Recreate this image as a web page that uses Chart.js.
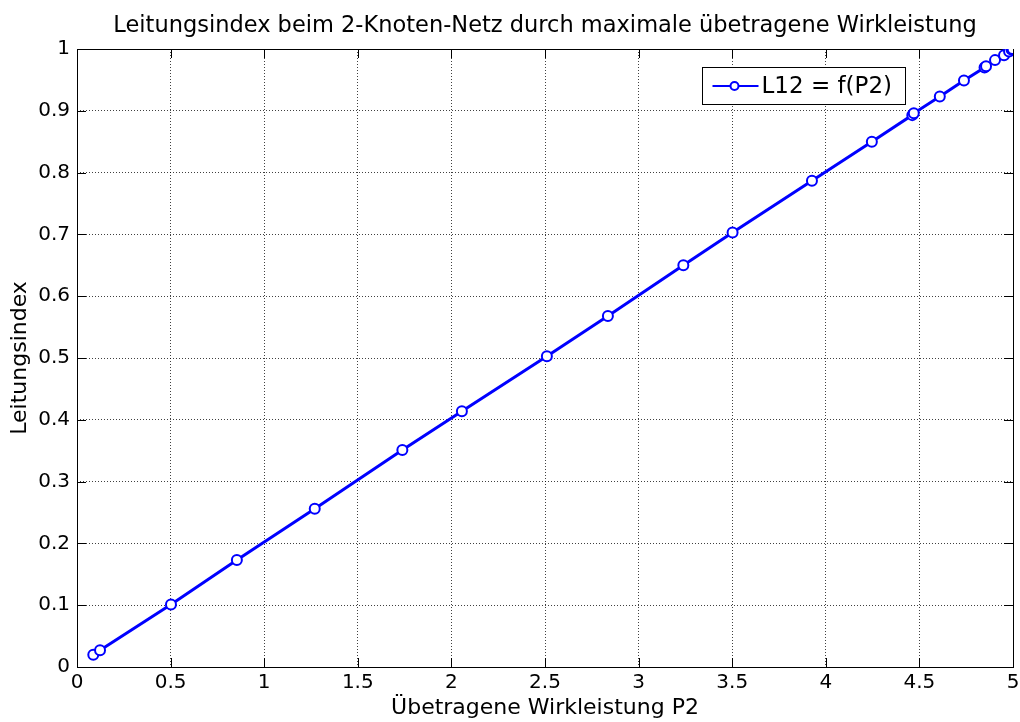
<!DOCTYPE html>
<html>
<head>
<meta charset="utf-8">
<title>Leitungsindex</title>
<script src="https://cdn.jsdelivr.net/npm/chart.js@4/dist/chart.umd.min.js"></script>
<style>
  html, body { margin: 0; padding: 0; background: #fff; }
  canvas { display: block; }
</style>
</head>
<body>
<canvas id="chart" width="1020" height="722"></canvas>
<script>
'use strict';

// ── Data ──────────────────────────────────────────────────────────────────────
const P2  = [0.087, 0.123, 0.502, 0.854, 1.270, 1.738, 2.056, 2.510, 2.836, 3.239,
             3.502, 3.926, 4.246, 4.462, 4.470, 4.609, 4.738, 4.848, 4.856, 4.904,
             4.952, 4.979, 4.992, 4.998];
const L12 = [0.020, 0.027, 0.101, 0.173, 0.256, 0.351, 0.414, 0.503, 0.568, 0.650,
             0.703, 0.787, 0.850, 0.893, 0.896, 0.923, 0.949, 0.970, 0.972, 0.982,
             0.990, 0.996, 0.999, 1.000];

const X_RANGE = [0, 5];
const X_STEP  = 0.5;
const Y_RANGE = [0, 1];
const Y_STEP  = 0.1;

const TITLE   = 'Leitungsindex beim 2-Knoten-Netz durch maximale übetragene Wirkleistung';
const X_LABEL = 'Übetragene Wirkleistung P2';
const Y_LABEL = 'Leitungsindex';
const SERIES  = 'L12 = f(P2)';

const FONT = 'DejaVu Sans';
const BLUE = '#0000ff';

// tick text like "0.5", "1", "0.1" (no padded decimals)
const tickText = v => String(Math.round(v * 10) / 10);

// ── Box around the axes + inward tick marks ───────────────────────────────────
const axesBox = {
  id: 'axesBox',
  beforeDatasetsDraw(chart) {
    const { ctx, chartArea: a, scales: { x, y } } = chart;
    const len = 9;
    ctx.save();
    ctx.strokeStyle = '#000';
    ctx.lineWidth = 1;
    ctx.beginPath();
    x.ticks.forEach(t => {
      const px = Math.round(x.getPixelForValue(t.value)) + 0.5;
      ctx.moveTo(px, a.bottom); ctx.lineTo(px, a.bottom - len);
      ctx.moveTo(px, a.top);    ctx.lineTo(px, a.top + len);
    });
    y.ticks.forEach(t => {
      const py = Math.round(y.getPixelForValue(t.value)) + 0.5;
      ctx.moveTo(a.left, py);  ctx.lineTo(a.left + len, py);
      ctx.moveTo(a.right, py); ctx.lineTo(a.right - len, py);
    });
    ctx.stroke();
    ctx.strokeRect(Math.round(a.left) + 0.5, Math.round(a.top) + 0.5,
                   Math.round(a.right - a.left), Math.round(a.bottom - a.top));
    ctx.restore();
  }
};

// ── Legend box (line + circle marker) ─────────────────────────────────────────
const lineLegend = {
  id: 'lineLegend',
  afterDatasetsDraw(chart) {
    const { ctx } = chart;
    const bx = 702.5, by = 67.5, bw = 203, bh = 37;
    const cy = by + bh / 2;
    ctx.save();
    ctx.fillStyle = '#fff';
    ctx.fillRect(bx, by, bw, bh);
    ctx.strokeStyle = '#000';
    ctx.lineWidth = 1;
    ctx.strokeRect(bx, by, bw, bh);

    ctx.strokeStyle = BLUE;
    ctx.lineWidth = 2;
    ctx.beginPath();
    ctx.moveTo(bx + 10, cy); ctx.lineTo(bx + 56, cy);
    ctx.stroke();
    ctx.beginPath();
    ctx.arc(bx + 32, cy, 4, 0, Math.PI * 2);
    ctx.fillStyle = '#fff';
    ctx.fill();
    ctx.stroke();

    ctx.fillStyle = '#000';
    ctx.font = `23px "${FONT}"`;
    ctx.textBaseline = 'middle';
    ctx.textAlign = 'left';
    ctx.fillText(SERIES, bx + 59, cy + 1);
    ctx.restore();
  }
};

// ── Chart ─────────────────────────────────────────────────────────────────────
Chart.defaults.font.family = FONT;
Chart.defaults.color = '#000';

new Chart(document.getElementById('chart'), {
  type: 'scatter',
  data: {
    datasets: [{
      label: SERIES,
      data: P2.map((p, i) => ({ x: p, y: L12[i] })),
      showLine: true,
      borderColor: BLUE,
      borderWidth: 3,
      pointRadius: 5,
      pointBorderWidth: 2,
      pointBorderColor: BLUE,
      pointBackgroundColor: '#fff',
      tension: 0
    }]
  },
  options: {
    responsive: false,
    animation: false,
    locale: 'en-US',
    layout: { padding: { left: 0, right: 6, top: 0, bottom: 0 } },
    plugins: {
      legend: { display: false },
      tooltip: { enabled: false },
      title: {
        display: true,
        fullSize: false,
        text: TITLE,
        color: '#000',
        font: { size: 22.5, weight: 'normal' },
        padding: { top: 13, bottom: 9 }
      }
    },
    scales: {
      x: {
        type: 'linear',
        min: X_RANGE[0],
        max: X_RANGE[1],
        afterFit: s => { s.height = 55; s.paddingLeft = 0; s.paddingRight = 0; },
        ticks: { stepSize: X_STEP, padding: 4, maxRotation: 0, font: { size: 20 }, callback: tickText },
        grid: { color: 'rgba(0,0,0,0.75)', lineWidth: 1, drawTicks: false },
        border: { display: false, dash: [1, 2] },
        title: { display: true, text: X_LABEL, font: { size: 22 }, padding: { top: 0, bottom: 1 } }
      },
      y: {
        type: 'linear',
        min: Y_RANGE[0],
        max: Y_RANGE[1],
        afterFit: s => { s.width = 77; s.paddingTop = 0; s.paddingBottom = 0; },
        ticks: { stepSize: Y_STEP, padding: 7, font: { size: 20 }, callback: tickText },
        grid: { color: 'rgba(0,0,0,0.75)', lineWidth: 1, drawTicks: false },
        border: { display: false, dash: [1, 2] },
        title: { display: true, text: Y_LABEL, font: { size: 22 }, padding: { top: 7, bottom: 0 } }
      }
    }
  },
  plugins: [axesBox, lineLegend]
});
</script>
</body>
</html>
